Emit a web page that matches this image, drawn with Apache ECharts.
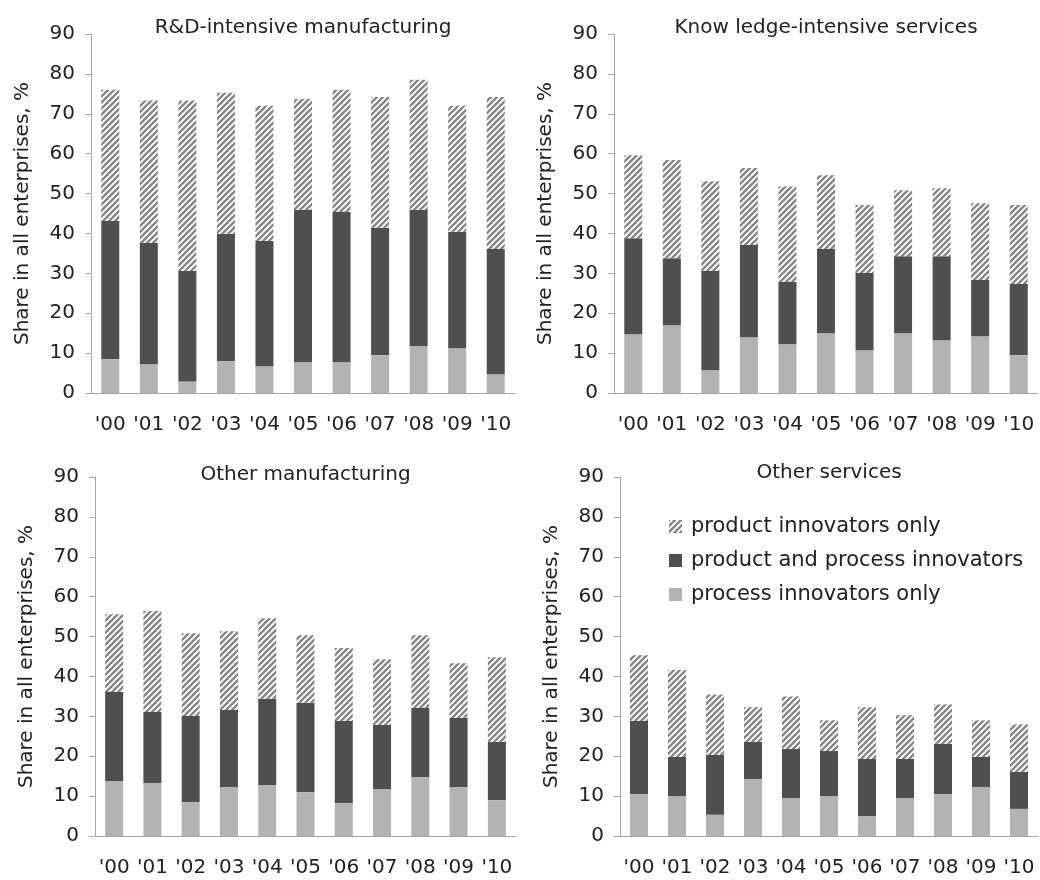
<!DOCTYPE html>
<html>
<head>
<meta charset="utf-8">
<script src="https://cdn.jsdelivr.net/npm/echarts@6/dist/echarts.min.js"></script>
<style>
html,body{margin:0;padding:0;background:#fff;}
#chart{width:1040px;height:880px;}
</style>
</head>
<body>
<div id="chart"></div>
<script>
// ---- data ----
const years = ["'00","'01","'02","'03","'04","'05","'06","'07","'08","'09","'10"];
const yTicks = [0,10,20,30,40,50,60,70,80,90];
const panelTitles = ["R&D-intensive manufacturing","Know ledge-intensive services","Other manufacturing","Other services"];
const seriesNames = ["product innovators only","product and process innovators","process innovators only"];

// R&D-intensive manufacturing
const rdProcessOnly = [8.5,7.2,2.9,8.0,6.7,7.7,7.7,9.5,11.7,11.2,4.7];
const rdBoth        = [34.6,30.4,27.7,31.9,31.4,38.2,37.7,31.9,34.2,29.2,31.4];
const rdProductOnly = [32.9,35.7,42.7,35.4,33.9,27.8,30.6,32.8,32.6,31.6,38.1];
// Knowledge-intensive services
const kisProcessOnly = [14.7,17.0,5.7,14.0,12.2,15.0,10.7,15.0,13.2,14.2,9.5];
const kisBoth        = [24.1,16.8,24.9,23.1,15.6,21.1,19.4,19.3,21.1,14.1,17.8];
const kisProductOnly = [20.8,24.6,22.5,19.3,24.0,18.5,17.0,16.5,17.0,19.3,19.8];
// Other manufacturing
const omProcessOnly = [13.8,13.3,8.5,12.3,12.8,11.0,8.3,11.8,14.8,12.3,9.0];
const omBoth        = [22.3,17.8,21.6,19.3,21.6,22.4,20.5,16.0,17.3,17.3,14.6];
const omProductOnly = [19.5,25.3,20.7,19.7,20.2,16.9,18.3,16.5,18.2,13.7,21.2];
// Other services
const osProcessOnly = [10.5,10.0,5.3,14.3,9.5,10.0,5.0,9.5,10.5,12.3,6.8];
const osBoth        = [18.3,9.8,15.0,9.3,12.3,11.3,14.3,9.8,12.6,7.5,9.3];
const osProductOnly = [16.5,21.8,15.2,8.7,13.2,7.7,13.0,11.0,9.9,9.2,11.9];

const panels = [
  [rdProcessOnly, rdBoth, rdProductOnly],
  [kisProcessOnly, kisBoth, kisProductOnly],
  [omProcessOnly, omBoth, omProductOnly],
  [osProcessOnly, osBoth, osProductOnly]
];

// ---- styles ----
const FONT = '"DejaVu Sans", Verdana, sans-serif';
const TXT = '#222222';
const AXIS = '#a6a6a6';
const LIGHT = '#b3b3b3';
const DARK = '#4f4f4f';

function hatch(){
  const s = 6;
  const c = document.createElement('canvas');
  c.width = s; c.height = s;
  const g = c.getContext('2d');
  g.fillStyle = '#ffffff';
  g.fillRect(0,0,s,s);
  g.strokeStyle = '#858585';
  g.lineWidth = 2.3;
  for (let k=-1;k<=1;k++){
    g.beginPath();
    g.moveTo(k*s - 1, s + 1);
    g.lineTo(k*s + s + 1, -1);
    g.stroke();
  }
  return c;
}
const hatchPattern = {image: hatch(), repeat: 'repeat'};

const grids = [
  {left:91, top:34, width:424, height:359},
  {left:614, top:34, width:424, height:359},
  {left:95, top:477, width:421, height:359},
  {left:620, top:477, width:418, height:359}
];
const titleY = [28, 28, 475, 473];

const xAxis = [], yAxis = [], series = [], graphic = [];
grids.forEach((g,i)=>{
  xAxis.push({
    type:'category', gridIndex:i, data:years,
    axisTick:{show:false},
    axisLine:{lineStyle:{color:AXIS, width:1}},
    axisLabel:{color:TXT, fontSize:20, fontFamily:FONT, margin:22, interval:0}
  });
  yAxis.push({
    type:'value', gridIndex:i, min:yTicks[0], max:yTicks[yTicks.length-1], interval:10,
    name:'Share in all enterprises, %', nameLocation:'middle', nameGap:58,
    nameTextStyle:{color:TXT, fontSize:20, fontFamily:FONT},
    axisLine:{show:true, lineStyle:{color:AXIS, width:1}},
    axisTick:{show:true, length:6, lineStyle:{color:AXIS}},
    splitLine:{show:false},
    axisLabel:{color:TXT, fontSize:20, fontFamily:FONT, margin:16}
  });
  const d = panels[i];
  const styles = [
    {color:LIGHT},
    {color:DARK},
    {color:hatchPattern}
  ];
  const names = [seriesNames[2], seriesNames[1], seriesNames[0]];
  for (let k=0;k<3;k++){
    series.push({
      type:'bar', name:names[k], xAxisIndex:i, yAxisIndex:i, stack:'s'+i,
      data:d[k], barWidth:18, itemStyle:styles[k], silent:true
    });
  }
  graphic.push({
    type:'text', x:g.left + g.width/2, y: titleY[i],
    style:{text:panelTitles[i], fill:TXT, font:'20px ' + FONT, textAlign:'center', textVerticalAlign:'middle'}
  });
});

const chart = echarts.init(document.getElementById('chart'), null, {renderer:'canvas'});
chart.setOption({
  animation:false,
  backgroundColor:'#ffffff',
  grid:grids,
  xAxis, yAxis, series, graphic,
  legend:{
    data:seriesNames, orient:'vertical', left:669, top:516, padding:0,
    itemWidth:13, itemHeight:13, itemGap:13, icon:'rect',
    textStyle:{color:TXT, fontSize:21, fontFamily:FONT, padding:[0,0,0,4]},
    selectedMode:false
  }
});
</script>
</body>
</html>
